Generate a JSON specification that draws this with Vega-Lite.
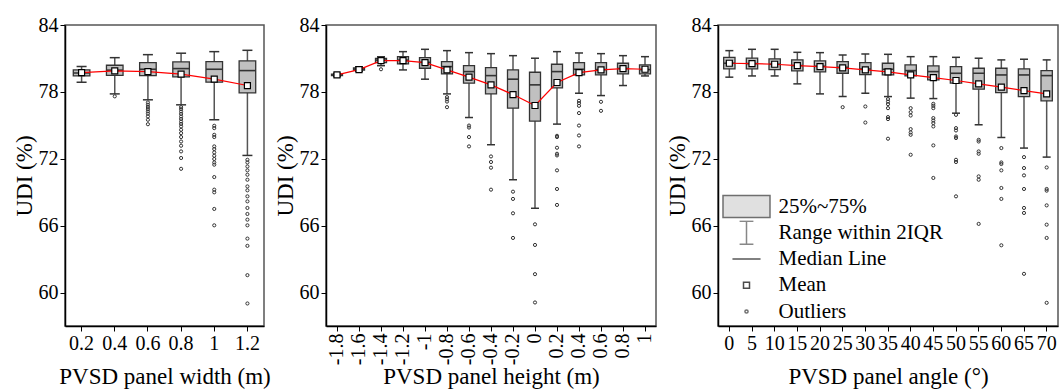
{
"$schema": "https://vega.github.io/schema/vega-lite/v6.json",
"background": "white",
"padding": {"left": 12, "top": 14, "right": 0, "bottom": 0},
"config": {
  "font": "Liberation Serif",
  "view": {"stroke": "#555", "strokeWidth": 1.5}
},
"datasets": {
  "boxes": [
    {"p":"w","x":0.2,"lo":78.87,"q1":79.43,"med":79.7,"q3":79.97,"hi":80.27,"mean":79.73},
    {"p":"w","x":0.4,"lo":77.82,"q1":79.49,"med":79.95,"q3":80.39,"hi":81.07,"mean":79.88},
    {"p":"w","x":0.6,"lo":77.29,"q1":79.46,"med":80.03,"q3":80.62,"hi":81.34,"mean":79.82},
    {"p":"w","x":0.8,"lo":76.84,"q1":79.34,"med":80.09,"q3":80.69,"hi":81.47,"mean":79.59},
    {"p":"w","x":1,"lo":75.5,"q1":78.87,"med":80.03,"q3":80.71,"hi":81.61,"mean":79.14},
    {"p":"w","x":1.2,"lo":72.3,"q1":77.91,"med":79.91,"q3":80.78,"hi":81.73,"mean":78.57},
    {"p":"h","x":-1.8,"lo":79.38,"q1":79.45,"med":79.52,"q3":79.6,"hi":79.66,"mean":79.52},
    {"p":"h","x":-1.6,"lo":79.85,"q1":79.95,"med":80.05,"q3":80.15,"hi":80.25,"mean":80.0},
    {"p":"h","x":-1.4,"lo":80.35,"q1":80.62,"med":80.85,"q3":81.0,"hi":81.15,"mean":80.8},
    {"p":"h","x":-1.2,"lo":79.97,"q1":80.51,"med":80.85,"q3":81.16,"hi":81.61,"mean":80.8},
    {"p":"h","x":-1,"lo":79.14,"q1":80.12,"med":80.65,"q3":81.07,"hi":81.82,"mean":80.62},
    {"p":"h","x":-0.8,"lo":77.82,"q1":79.61,"med":80.27,"q3":80.71,"hi":81.7,"mean":79.97},
    {"p":"h","x":-0.6,"lo":75.7,"q1":78.78,"med":79.82,"q3":80.36,"hi":81.52,"mean":79.32},
    {"p":"h","x":-0.4,"lo":73.26,"q1":77.82,"med":79.46,"q3":80.18,"hi":81.43,"mean":78.63},
    {"p":"h","x":-0.2,"lo":70.12,"q1":76.54,"med":79.14,"q3":79.97,"hi":81.25,"mean":77.76},
    {"p":"h","x":0,"lo":67.56,"q1":75.38,"med":78.63,"q3":79.76,"hi":81.02,"mean":76.78},
    {"p":"h","x":0.2,"lo":75.11,"q1":78.36,"med":79.82,"q3":80.48,"hi":81.61,"mean":78.84},
    {"p":"h","x":0.4,"lo":77.88,"q1":79.52,"med":80.03,"q3":80.62,"hi":81.49,"mean":79.73},
    {"p":"h","x":0.6,"lo":77.67,"q1":79.52,"med":80.0,"q3":80.62,"hi":81.43,"mean":79.97},
    {"p":"h","x":0.8,"lo":78.57,"q1":79.61,"med":80.1,"q3":80.57,"hi":81.25,"mean":80.09},
    {"p":"h","x":1,"lo":79.43,"q1":79.61,"med":80.0,"q3":80.42,"hi":81.16,"mean":80.03},
    {"p":"a","x":0,"lo":79.32,"q1":80.06,"med":80.57,"q3":81.1,"hi":81.7,"mean":80.57},
    {"p":"a","x":5,"lo":79.43,"q1":80.06,"med":80.54,"q3":81.02,"hi":81.82,"mean":80.54},
    {"p":"a","x":10,"lo":79.43,"q1":80.0,"med":80.48,"q3":80.96,"hi":81.82,"mean":80.48},
    {"p":"a","x":15,"lo":78.72,"q1":79.88,"med":80.36,"q3":80.87,"hi":81.55,"mean":80.36},
    {"p":"a","x":20,"lo":77.82,"q1":79.79,"med":80.3,"q3":80.78,"hi":81.52,"mean":80.27},
    {"p":"a","x":25,"lo":77.58,"q1":79.67,"med":80.2,"q3":80.71,"hi":81.31,"mean":80.15},
    {"p":"a","x":30,"lo":77.88,"q1":79.55,"med":80.05,"q3":80.62,"hi":81.4,"mean":79.97},
    {"p":"a","x":35,"lo":77.58,"q1":79.52,"med":80.03,"q3":80.57,"hi":81.37,"mean":79.79},
    {"p":"a","x":40,"lo":77.44,"q1":79.43,"med":79.91,"q3":80.42,"hi":81.16,"mean":79.52},
    {"p":"a","x":45,"lo":77.4,"q1":79.08,"med":79.82,"q3":80.33,"hi":81.16,"mean":79.28},
    {"p":"a","x":50,"lo":76.09,"q1":78.78,"med":79.67,"q3":80.27,"hi":81.1,"mean":79.02},
    {"p":"a","x":55,"lo":75.05,"q1":78.24,"med":79.67,"q3":80.12,"hi":81.02,"mean":78.72},
    {"p":"a","x":60,"lo":73.91,"q1":77.94,"med":79.52,"q3":80.12,"hi":80.87,"mean":78.42},
    {"p":"a","x":65,"lo":72.96,"q1":77.58,"med":79.52,"q3":80.06,"hi":80.93,"mean":78.12},
    {"p":"a","x":70,"lo":72.15,"q1":77.2,"med":79.46,"q3":79.91,"hi":80.87,"mean":77.82}
  ],
  "outliers": [
    {"p":"w","x":0.4,"v":77.6},
    {"p":"w","x":0.6,"v":77.05},{"p":"w","x":0.6,"v":76.85},{"p":"w","x":0.6,"v":76.65},{"p":"w","x":0.6,"v":76.45},{"p":"w","x":0.6,"v":76.25},{"p":"w","x":0.6,"v":76.05},{"p":"w","x":0.6,"v":75.8},{"p":"w","x":0.6,"v":75.5},{"p":"w","x":0.6,"v":75.1},
    {"p":"w","x":0.8,"v":76.63},{"p":"w","x":0.8,"v":76.45},{"p":"w","x":0.8,"v":76.24},{"p":"w","x":0.8,"v":76.03},{"p":"w","x":0.8,"v":75.79},{"p":"w","x":0.8,"v":75.58},{"p":"w","x":0.8,"v":75.34},{"p":"w","x":0.8,"v":75.13},{"p":"w","x":0.8,"v":74.9},{"p":"w","x":0.8,"v":74.6},{"p":"w","x":0.8,"v":74.3},{"p":"w","x":0.8,"v":73.95},{"p":"w","x":0.8,"v":73.55},{"p":"w","x":0.8,"v":73.17},{"p":"w","x":0.8,"v":72.66},{"p":"w","x":0.8,"v":72.07},{"p":"w","x":0.8,"v":71.1},
    {"p":"w","x":1,"v":74.96},{"p":"w","x":1,"v":74.75},{"p":"w","x":1,"v":74.15},{"p":"w","x":1,"v":73.95},{"p":"w","x":1,"v":73.11},{"p":"w","x":1,"v":72.87},{"p":"w","x":1,"v":72.57},{"p":"w","x":1,"v":72.27},{"p":"w","x":1,"v":71.98},{"p":"w","x":1,"v":71.67},{"p":"w","x":1,"v":71.47},{"p":"w","x":1,"v":70.36},{"p":"w","x":1,"v":69.23},{"p":"w","x":1,"v":68.99},{"p":"w","x":1,"v":67.5},{"p":"w","x":1,"v":66.03},
    {"p":"w","x":1.2,"v":71.91},{"p":"w","x":1.2,"v":71.67},{"p":"w","x":1.2,"v":71.31},{"p":"w","x":1.2,"v":70.96},{"p":"w","x":1.2,"v":70.57},{"p":"w","x":1.2,"v":70.12},{"p":"w","x":1.2,"v":69.52},{"p":"w","x":1.2,"v":69.17},{"p":"w","x":1.2,"v":68.63},{"p":"w","x":1.2,"v":68.18},{"p":"w","x":1.2,"v":67.59},{"p":"w","x":1.2,"v":67.05},{"p":"w","x":1.2,"v":66.54},{"p":"w","x":1.2,"v":66.03},{"p":"w","x":1.2,"v":64.84},{"p":"w","x":1.2,"v":64.19},{"p":"w","x":1.2,"v":61.56},{"p":"w","x":1.2,"v":59.02},
    {"p":"h","x":-1.4,"v":80.03},
    {"p":"h","x":-0.8,"v":77.53},{"p":"h","x":-0.8,"v":77.33},{"p":"h","x":-0.8,"v":77.13},{"p":"h","x":-0.8,"v":76.63},
    {"p":"h","x":-0.6,"v":74.98},{"p":"h","x":-0.6,"v":74.8},{"p":"h","x":-0.6,"v":73.95},{"p":"h","x":-0.6,"v":73.11},
    {"p":"h","x":-0.4,"v":72.21},{"p":"h","x":-0.4,"v":71.71},{"p":"h","x":-0.4,"v":71.2},{"p":"h","x":-0.4,"v":69.23},
    {"p":"h","x":-0.2,"v":69.05},{"p":"h","x":-0.2,"v":68.4},{"p":"h","x":-0.2,"v":67.11},{"p":"h","x":-0.2,"v":64.9},
    {"p":"h","x":0,"v":66.12},{"p":"h","x":0,"v":64.27},{"p":"h","x":0,"v":61.65},{"p":"h","x":0,"v":59.11},
    {"p":"h","x":0.2,"v":74.06},{"p":"h","x":0.2,"v":73.95},{"p":"h","x":0.2,"v":72.99},{"p":"h","x":0.2,"v":72.45},{"p":"h","x":0.2,"v":72.3},{"p":"h","x":0.2,"v":70.96},{"p":"h","x":0.2,"v":69.29},{"p":"h","x":0.2,"v":67.86},
    {"p":"h","x":0.4,"v":77.2},{"p":"h","x":0.4,"v":76.99},{"p":"h","x":0.4,"v":76.75},{"p":"h","x":0.4,"v":76.1},{"p":"h","x":0.4,"v":74.98},{"p":"h","x":0.4,"v":74.09},{"p":"h","x":0.4,"v":73.11},
    {"p":"h","x":0.6,"v":77.11},{"p":"h","x":0.6,"v":76.3},
    {"p":"a","x":25,"v":76.63},
    {"p":"a","x":30,"v":76.69},{"p":"a","x":30,"v":75.25},
    {"p":"a","x":35,"v":77.35},{"p":"a","x":35,"v":77.13},{"p":"a","x":35,"v":76.9},{"p":"a","x":35,"v":76.54},{"p":"a","x":35,"v":75.74},{"p":"a","x":35,"v":75.56},{"p":"a","x":35,"v":73.8},
    {"p":"a","x":40,"v":76.54},{"p":"a","x":40,"v":76.18},{"p":"a","x":40,"v":75.88},{"p":"a","x":40,"v":74.66},{"p":"a","x":40,"v":74.36},{"p":"a","x":40,"v":74.15},{"p":"a","x":40,"v":72.36},
    {"p":"a","x":45,"v":76.93},{"p":"a","x":45,"v":76.75},{"p":"a","x":45,"v":76.54},{"p":"a","x":45,"v":75.65},{"p":"a","x":45,"v":75.43},{"p":"a","x":45,"v":75.2},{"p":"a","x":45,"v":74.9},{"p":"a","x":45,"v":73.2},{"p":"a","x":45,"v":70.28},
    {"p":"a","x":50,"v":75.94},{"p":"a","x":50,"v":74.75},{"p":"a","x":50,"v":74.54},{"p":"a","x":50,"v":74.0},{"p":"a","x":50,"v":73.86},{"p":"a","x":50,"v":71.91},{"p":"a","x":50,"v":71.71},{"p":"a","x":50,"v":68.63},
    {"p":"a","x":55,"v":73.7},{"p":"a","x":55,"v":73.55},{"p":"a","x":55,"v":72.66},{"p":"a","x":55,"v":72.45},{"p":"a","x":55,"v":70.42},{"p":"a","x":55,"v":70.12},{"p":"a","x":55,"v":66.16},
    {"p":"a","x":60,"v":72.96},{"p":"a","x":60,"v":71.67},{"p":"a","x":60,"v":71.53},{"p":"a","x":60,"v":70.96},{"p":"a","x":60,"v":69.38},{"p":"a","x":60,"v":68.4},{"p":"a","x":60,"v":64.24},
    {"p":"a","x":65,"v":72.15},{"p":"a","x":65,"v":71.17},{"p":"a","x":65,"v":70.51},{"p":"a","x":65,"v":69.29},{"p":"a","x":65,"v":67.59},{"p":"a","x":65,"v":67.14},{"p":"a","x":65,"v":61.68},
    {"p":"a","x":70,"v":71.22},{"p":"a","x":70,"v":69.29},{"p":"a","x":70,"v":69.14},{"p":"a","x":70,"v":67.82},{"p":"a","x":70,"v":66.09},{"p":"a","x":70,"v":64.9},{"p":"a","x":70,"v":59.08}
  ]
},
"hconcat": [
  {
    "width": 199, "height": 301,
    "view": {"stroke": "#555", "strokeWidth": 1.5},
    "encoding": {"x": {"field": "x", "type": "ordinal", "scale": {"paddingInner": 0, "paddingOuter": 0}, "axis": {"title": "PVSD panel width (m)", "labelFont": "Liberation Serif", "titleFont": "Liberation Serif", "labelFontSize": 20, "titleFontSize": 23, "titleFontWeight": "normal", "labelColor": "#000", "titleColor": "#000", "domainColor": "#000", "domainWidth": 1.5, "tickColor": "#000", "grid": false, "labelAngle": 0, "tickSize": 5, "labelPadding": 2, "titlePadding": 12}}},
    "layer": [
      {"data": {"name": "boxes"}, "transform": [{"filter": "datum.p == 'w'"}], "mark": {"type": "rule", "color": "#555", "strokeWidth": 1.5, "opacity": 1},
       "encoding": {"y": {"field": "lo", "type": "quantitative", "scale": {"domain": [57, 84], "nice": false, "zero": false}, "axis": {"values": [60,63,66,69,72,75,78,81,84], "labelExpr": "datum.value % 6 == 0 ? datum.label : ''", "title": "UDI (%)", "labelFont": "Liberation Serif", "titleFont": "Liberation Serif", "labelFontSize": 20, "titleFontSize": 23, "titleFontWeight": "normal", "labelColor": "#000", "titleColor": "#000", "domainColor": "#000", "domainWidth": 1.5, "tickColor": "#000", "grid": false, "tickSize": 5, "labelPadding": 2, "titlePadding": 2, "encode": {"ticks": {"update": {"x2": {"signal": "datum.value % 6 == 0 ? -5 : -3"}}}}}}, "y2": {"field": "hi"}}},
      {"data": {"name": "boxes"}, "transform": [{"filter": "datum.p == 'w'"}], "mark": {"type": "tick", "color": "#333", "thickness": 1.5, "size": 10, "opacity": 1}, "encoding": {"y": {"field": "lo", "type": "quantitative"}}},
      {"data": {"name": "boxes"}, "transform": [{"filter": "datum.p == 'w'"}], "mark": {"type": "tick", "color": "#333", "thickness": 1.5, "size": 10, "opacity": 1}, "encoding": {"y": {"field": "hi", "type": "quantitative"}}},
      {"data": {"name": "boxes"}, "transform": [{"filter": "datum.p == 'w'"}], "mark": {"type": "bar", "fill": "#c0c0c0", "stroke": "#333", "strokeWidth": 1.3, "opacity": 1, "fillOpacity": 1, "width": {"band": 0.5}}, "encoding": {"y": {"field": "q1", "type": "quantitative"}, "y2": {"field": "q3"}}},
      {"data": {"name": "boxes"}, "transform": [{"filter": "datum.p == 'w'"}], "mark": {"type": "tick", "color": "#333", "thickness": 1.6, "size": 16.5, "opacity": 1}, "encoding": {"y": {"field": "med", "type": "quantitative"}}},
      {"data": {"name": "outliers"}, "transform": [{"filter": "datum.p == 'w'"}], "mark": {"type": "point", "shape": "circle", "size": 10, "filled": false, "stroke": "#333", "strokeWidth": 1, "opacity": 1}, "encoding": {"y": {"field": "v", "type": "quantitative"}}},
      {"data": {"name": "boxes"}, "transform": [{"filter": "datum.p == 'w'"}], "mark": {"type": "line", "color": "#ff0000", "strokeWidth": 1.2}, "encoding": {"y": {"field": "mean", "type": "quantitative"}}},
      {"data": {"name": "boxes"}, "transform": [{"filter": "datum.p == 'w'"}], "mark": {"type": "point", "shape": "square", "size": 36, "filled": true, "fill": "white", "stroke": "#000", "strokeWidth": 1.2, "opacity": 1}, "encoding": {"y": {"field": "mean", "type": "quantitative"}}}
    ]
  },
  {
    "width": 330, "height": 301,
    "view": {"stroke": "#555", "strokeWidth": 1.5},
    "encoding": {"x": {"field": "x", "type": "ordinal", "scale": {"paddingInner": 0, "paddingOuter": 0}, "axis": {"title": "PVSD panel height (m)", "labelFont": "Liberation Serif", "titleFont": "Liberation Serif", "labelFontSize": 20, "titleFontSize": 23, "titleFontWeight": "normal", "labelColor": "#000", "titleColor": "#000", "domainColor": "#000", "domainWidth": 1.5, "tickColor": "#000", "grid": false, "labelAngle": 270, "tickSize": 5, "labelPadding": 2, "titlePadding": 1}}},
    "layer": [
      {"data": {"name": "boxes"}, "transform": [{"filter": "datum.p == 'h'"}], "mark": {"type": "rule", "color": "#555", "strokeWidth": 1.5, "opacity": 1},
       "encoding": {"y": {"field": "lo", "type": "quantitative", "scale": {"domain": [57, 84], "nice": false, "zero": false}, "axis": {"values": [60,63,66,69,72,75,78,81,84], "labelExpr": "datum.value % 6 == 0 ? datum.label : ''", "title": "UDI (%)", "labelFont": "Liberation Serif", "titleFont": "Liberation Serif", "labelFontSize": 20, "titleFontSize": 23, "titleFontWeight": "normal", "labelColor": "#000", "titleColor": "#000", "domainColor": "#000", "domainWidth": 1.5, "tickColor": "#000", "grid": false, "tickSize": 5, "labelPadding": 2, "titlePadding": 2, "encode": {"ticks": {"update": {"x2": {"signal": "datum.value % 6 == 0 ? -5 : -3"}}}}}}, "y2": {"field": "hi"}}},
      {"data": {"name": "boxes"}, "transform": [{"filter": "datum.p == 'h'"}], "mark": {"type": "tick", "color": "#333", "thickness": 1.5, "size": 8, "opacity": 1}, "encoding": {"y": {"field": "lo", "type": "quantitative"}}},
      {"data": {"name": "boxes"}, "transform": [{"filter": "datum.p == 'h'"}], "mark": {"type": "tick", "color": "#333", "thickness": 1.5, "size": 8, "opacity": 1}, "encoding": {"y": {"field": "hi", "type": "quantitative"}}},
      {"data": {"name": "boxes"}, "transform": [{"filter": "datum.p == 'h'"}], "mark": {"type": "bar", "fill": "#c0c0c0", "stroke": "#333", "strokeWidth": 1.3, "opacity": 1, "fillOpacity": 1, "width": {"band": 0.5}}, "encoding": {"y": {"field": "q1", "type": "quantitative"}, "y2": {"field": "q3"}}},
      {"data": {"name": "boxes"}, "transform": [{"filter": "datum.p == 'h'"}], "mark": {"type": "tick", "color": "#333", "thickness": 1.6, "size": 11, "opacity": 1}, "encoding": {"y": {"field": "med", "type": "quantitative"}}},
      {"data": {"name": "outliers"}, "transform": [{"filter": "datum.p == 'h'"}], "mark": {"type": "point", "shape": "circle", "size": 10, "filled": false, "stroke": "#333", "strokeWidth": 1, "opacity": 1}, "encoding": {"y": {"field": "v", "type": "quantitative"}}},
      {"data": {"name": "boxes"}, "transform": [{"filter": "datum.p == 'h'"}], "mark": {"type": "line", "color": "#ff0000", "strokeWidth": 1.2}, "encoding": {"y": {"field": "mean", "type": "quantitative"}}},
      {"data": {"name": "boxes"}, "transform": [{"filter": "datum.p == 'h'"}], "mark": {"type": "point", "shape": "square", "size": 36, "filled": true, "fill": "white", "stroke": "#000", "strokeWidth": 1.2, "opacity": 1}, "encoding": {"y": {"field": "mean", "type": "quantitative"}}}
    ]
  },
  {
    "width": 340, "height": 301,
    "view": {"stroke": "#555", "strokeWidth": 1.5},
    "encoding": {"x": {"field": "x", "type": "ordinal", "scale": {"paddingInner": 0, "paddingOuter": 0}, "axis": {"title": "PVSD panel angle (°)", "labelFont": "Liberation Serif", "titleFont": "Liberation Serif", "labelFontSize": 20, "titleFontSize": 23, "titleFontWeight": "normal", "labelColor": "#000", "titleColor": "#000", "domainColor": "#000", "domainWidth": 1.5, "tickColor": "#000", "grid": false, "labelAngle": 0, "tickSize": 5, "labelPadding": 2, "titlePadding": 12}}},
    "layer": [
      {"data": {"name": "boxes"}, "transform": [{"filter": "datum.p == 'a'"}], "mark": {"type": "rule", "color": "#555", "strokeWidth": 1.5, "opacity": 1},
       "encoding": {"y": {"field": "lo", "type": "quantitative", "scale": {"domain": [57, 84], "nice": false, "zero": false}, "axis": {"values": [60,63,66,69,72,75,78,81,84], "labelExpr": "datum.value % 6 == 0 ? datum.label : ''", "title": "UDI (%)", "labelFont": "Liberation Serif", "titleFont": "Liberation Serif", "labelFontSize": 20, "titleFontSize": 23, "titleFontWeight": "normal", "labelColor": "#000", "titleColor": "#000", "domainColor": "#000", "domainWidth": 1.5, "tickColor": "#000", "grid": false, "tickSize": 5, "labelPadding": 2, "titlePadding": 2, "encode": {"ticks": {"update": {"x2": {"signal": "datum.value % 6 == 0 ? -5 : -3"}}}}}}, "y2": {"field": "hi"}}},
      {"data": {"name": "boxes"}, "transform": [{"filter": "datum.p == 'a'"}], "mark": {"type": "tick", "color": "#333", "thickness": 1.5, "size": 8, "opacity": 1}, "encoding": {"y": {"field": "lo", "type": "quantitative"}}},
      {"data": {"name": "boxes"}, "transform": [{"filter": "datum.p == 'a'"}], "mark": {"type": "tick", "color": "#333", "thickness": 1.5, "size": 8, "opacity": 1}, "encoding": {"y": {"field": "hi", "type": "quantitative"}}},
      {"data": {"name": "boxes"}, "transform": [{"filter": "datum.p == 'a'"}], "mark": {"type": "bar", "fill": "#c0c0c0", "stroke": "#333", "strokeWidth": 1.3, "opacity": 1, "fillOpacity": 1, "width": {"band": 0.5}}, "encoding": {"y": {"field": "q1", "type": "quantitative"}, "y2": {"field": "q3"}}},
      {"data": {"name": "boxes"}, "transform": [{"filter": "datum.p == 'a'"}], "mark": {"type": "tick", "color": "#333", "thickness": 1.6, "size": 11.3, "opacity": 1}, "encoding": {"y": {"field": "med", "type": "quantitative"}}},
      {"data": {"name": "outliers"}, "transform": [{"filter": "datum.p == 'a'"}], "mark": {"type": "point", "shape": "circle", "size": 10, "filled": false, "stroke": "#333", "strokeWidth": 1, "opacity": 1}, "encoding": {"y": {"field": "v", "type": "quantitative"}}},
      {"data": {"name": "boxes"}, "transform": [{"filter": "datum.p == 'a'"}], "mark": {"type": "line", "color": "#ff0000", "strokeWidth": 1.2}, "encoding": {"y": {"field": "mean", "type": "quantitative"}}},
      {"data": {"name": "boxes"}, "transform": [{"filter": "datum.p == 'a'"}], "mark": {"type": "point", "shape": "square", "size": 36, "filled": true, "fill": "white", "stroke": "#000", "strokeWidth": 1.2, "opacity": 1}, "encoding": {"y": {"field": "mean", "type": "quantitative"}}},
      {"data": {"values": []}, "mark": {"type": "point", "filled": true},
       "encoding": {
         "shape": {"field": "k", "type": "nominal", "scale": {"domain": ["25%~75%", "Range within 2IQR", "Median Line", "Mean", "Outliers"], "range": ["M-2,-0.94H2V0.94H-2Z", "M-0.6,-1H0.6M0,-1V1M-0.6,1H0.6", "M-1.17,0H1.17", "square", "circle"]},
           "legend": {"title": null, "orient": "bottom-left", "offset": 2, "padding": 0, "labelFontSize": 21, "labelFont": "Liberation Serif", "labelColor": "#000", "labelLimit": 300, "symbolStrokeWidth": 1.5, "rowPadding": 1.25, "clipHeight": 25, "symbolOffset": 13.5, "labelOffset": 19, "symbolOpacity": 1, "symbolFillOpacity": 1}},
         "fill": {"field": "k", "type": "nominal", "scale": {"domain": ["25%~75%", "Range within 2IQR", "Median Line", "Mean", "Outliers"], "range": ["#c0c0c0", "transparent", "transparent", "white", "transparent"]}},
         "stroke": {"field": "k", "type": "nominal", "scale": {"domain": ["25%~75%", "Range within 2IQR", "Median Line", "Mean", "Outliers"], "range": ["#333", "#555", "#111", "#000", "#333"]}},
         "size": {"field": "k", "type": "nominal", "scale": {"type": "ordinal", "domain": ["25%~75%", "Range within 2IQR", "Median Line", "Mean", "Outliers"], "range": [552, 529, 576, 36, 10]}}
       }}
    ]
  }
],
"resolve": {"scale": {"shape": "independent", "fill": "independent", "stroke": "independent", "size": "independent"}},
"spacing": 62,
"bounds": "flush"
}
